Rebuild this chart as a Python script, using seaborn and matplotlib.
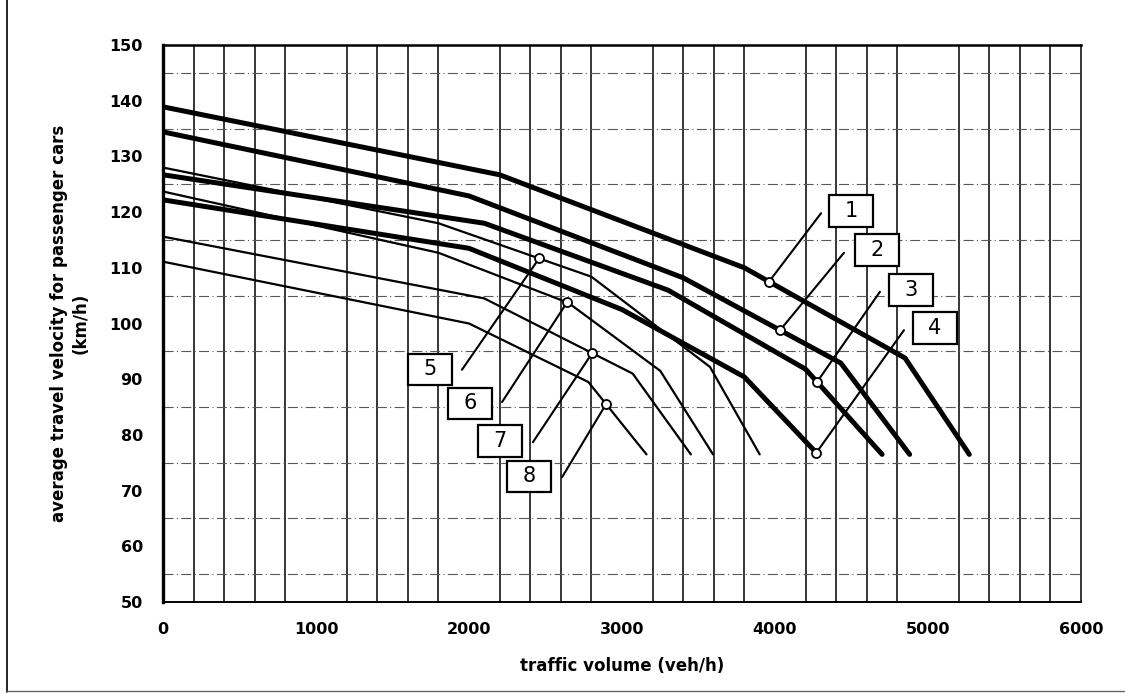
import numpy as np
import pandas as pd
import seaborn as sns
import matplotlib.pyplot as plt
from matplotlib.patches import Rectangle
from matplotlib.lines import Line2D

# curve data (traffic volume veh/h, velocity km/h)
c1_x = [0, 2200, 3800, 4850, 5270]
c1_y = [138.9, 126.7, 110.0, 93.8, 76.5]
c2_x = [0, 2000, 3400, 4430, 4880]
c2_y = [134.4, 122.9, 108.2, 92.9, 76.5]
c3_x = [0, 2100, 3300, 4200, 4700]
c3_y = [126.7, 118.0, 106.0, 91.8, 76.5]
c4_x = [0, 2000, 3000, 3800, 4280]
c4_y = [122.2, 113.5, 102.5, 90.4, 76.5]
c5_x = [0, 1800, 2800, 3575, 3900]
c5_y = [128.0, 118.0, 108.4, 92.2, 76.5]
c6_x = [0, 1800, 2650, 3250, 3595]
c6_y = [123.7, 112.7, 103.7, 91.5, 76.5]
c7_x = [0, 2100, 3070, 3450]
c7_y = [115.6, 104.5, 91.0, 76.5]
c8_x = [0, 2000, 2780, 3160]
c8_y = [111.1, 100.0, 89.5, 76.5]

curve_ids = [1, 2, 3, 4, 5, 6, 7, 8]
# traffic volume where each numbered marker sits on its curve
marker_x = [3961, 4033, 4275, 4270, 2458, 2641, 2805, 2896]

xs = [c1_x, c2_x, c3_x, c4_x, c5_x, c6_x, c7_x, c8_x]
ys = [c1_y, c2_y, c3_y, c4_y, c5_y, c6_y, c7_y, c8_y]

frames = []
for cid, x, y in zip(curve_ids, xs, ys):
    frames.append(pd.DataFrame({"volume": x, "velocity": y, "curve": cid}))
df = pd.concat(frames, ignore_index=True)

sns.set_theme(style="white")
plt.rcParams["font.family"] = ["DejaVu Sans"]
plt.rcParams["text.color"] = "black"
plt.rcParams["axes.labelcolor"] = "black"

fig = plt.figure(figsize=(11.25, 6.95), dpi=100)
ax = fig.add_axes([163 / 1125, 1 - 602 / 695, (1081 - 163) / 1125, (602 - 45) / 695])

# grid: solid verticals every 200 (not at 1000s), dash-dot horizontals at the 5s
for v in range(200, 6000, 200):
    if v % 1000:
        ax.axvline(v, color="black", lw=1.1, zorder=1)
for h in range(55, 150, 10):
    ax.axhline(h, color="0.35", lw=0.8, ls=(0, (9, 3, 1, 3)), zorder=1)

for cid in curve_ids:
    sub = df[df["curve"] == cid]
    sns.lineplot(data=sub, x="volume", y="velocity", ax=ax, color="black",
                 lw=3.6 if cid <= 4 else 1.6, zorder=3, legend=False)

# label boxes and leader lines
box_pos = {1: (4497, 120.2), 2: (4667, 113.2), 3: (4889, 106.0), 4: (5046, 99.2),
           5: (1745, 91.8), 6: (2007, 85.7), 7: (2203, 78.9), 8: (2392, 72.6)}
leader_end = {1: (4301, 119.8), 2: (4451, 112.7), 3: (4686, 105.7), 4: (4843, 98.8),
              5: (1954, 91.7), 6: (2216, 85.9), 7: (2418, 78.7), 8: (2608, 72.4)}
bw, bh = 285, 5.6
for cid, mx, x, y in zip(curve_ids, marker_x, xs, ys):
    my = np.interp(mx, x, y)
    ex, ey = leader_end[cid]
    ax.plot([mx, ex], [my, ey], color="black", lw=1.5, zorder=4)
    ax.plot(mx, my, "o", ms=6.5, mfc="white", mec="black", mew=1.3, zorder=5)
    bx, by = box_pos[cid]
    ax.add_patch(Rectangle((bx - bw / 2, by - bh / 2), bw, bh, fc="white",
                           ec="black", lw=1.6, zorder=6))
    ax.text(bx, by, str(cid), ha="center", va="center", fontsize=15,
            color="black", zorder=7)

ax.set_xlim(0, 6000)
ax.set_ylim(50, 150)
ax.set_xticks(range(0, 6001, 1000))
ax.set_yticks(range(50, 151, 10))
ax.tick_params(axis="both", direction="inout", length=9, width=1.4, colors="black",
               labelsize=11.5, pad=10)
for lab in ax.get_xticklabels() + ax.get_yticklabels():
    lab.set_fontweight("bold")

ax.set_xlabel("traffic volume (veh/h)", fontsize=12, fontweight="bold",
              labelpad=14, color="black")
ax.set_ylabel("average travel velocity for passenger cars\n(km/h)", fontsize=12,
              fontweight="bold", labelpad=14, linespacing=1.3, color="black")

ax.spines["left"].set_linewidth(2.4)
ax.spines["top"].set_linewidth(1.8)
ax.spines["bottom"].set_linewidth(1.4)
ax.spines["right"].set_linewidth(1.1)
for s in ax.spines.values():
    s.set_color("black")

# outer frame of the scanned figure
fig.add_artist(Line2D([7 / 1125, 7 / 1125], [0.005, 1.0], color="black", lw=1.2))
fig.add_artist(Line2D([7 / 1125, 1.0], [4 / 695, 4 / 695], color="0.4", lw=1.0))

fig.savefig("out.png", dpi=100, facecolor="white")
